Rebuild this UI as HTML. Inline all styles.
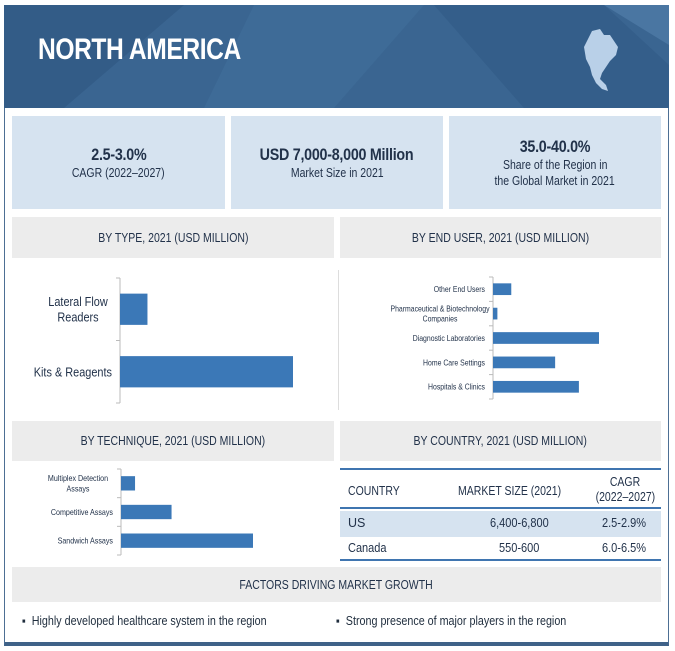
<!DOCTYPE html>
<html><head><meta charset="utf-8"><style>
*{margin:0;padding:0;box-sizing:border-box}
body{width:675px;height:651px;background:#fff;position:relative;overflow:hidden;font-family:"Liberation Sans",sans-serif;color:#1f2d3d}
.abs{position:absolute}
.c{display:inline-block;transform:scaleX(.84);transform-origin:center;white-space:nowrap}
.kpi{background:#d6e3f0;text-align:center;display:flex;flex-direction:column;justify-content:center;align-items:center}
.kpi b{font-size:17px;font-weight:bold;color:#22324a;letter-spacing:-0.3px}
.kpi span{font-size:12.5px;color:#22324a;line-height:16px}
.hd{background:#ececec;font-size:12.5px;display:flex;align-items:center;justify-content:center;color:#22324a;white-space:nowrap}
.tbl{font-size:12.5px;color:#22324a}
.tbl>div{white-space:nowrap}
</style></head><body>
<div class="abs" style="left:4px;top:5px;width:665px;height:641px;border:1.5px solid #4d6f94;border-bottom:4px solid #3f6288"></div>
<div class="abs" style="left:4px;top:5px;width:665px;height:103px;background:#3a6591;overflow:hidden">
<svg width="665" height="103" style="position:absolute;left:0;top:0"><polygon points="0,0 180,0 60,103 0,103" fill="#335c87"/><polygon points="250,0 420,0 330,103 200,103" fill="#3e6b97"/><polygon points="430,0 600,0 665,60 665,103 520,103" fill="#345e8a"/><polygon points="600,0 665,0 665,40" fill="#4a76a2"/></svg>
<div class="abs" style="left:34px;top:28px;font-size:30px;font-weight:bold;color:#fff;letter-spacing:-0.5px;transform:scaleX(.82);transform-origin:left">NORTH AMERICA</div>
<svg class="abs" style="left:576px;top:20px" width="44" height="72"><path d="M12,6 L20,4 L24,10 L30,10 L34,16 L38,22 L36,30 L30,36 L26,42 L22,48 L20,54 L26,60 L28,66 L22,64 L16,58 L12,50 L10,42 L6,34 L4,22 L8,14 Z" fill="#b9d0e8"/></svg>
</div>
<div class="abs kpi" style="left:12px;top:116px;width:213px;height:93px"><b class="c">2.5-3.0%</b><span class="c">CAGR (2022–2027)</span></div>
<div class="abs kpi" style="left:231px;top:116px;width:212px;height:93px"><b class="c">USD 7,000-8,000 Million</b><span class="c">Market Size in 2021</span></div>
<div class="abs kpi" style="left:449px;top:116px;width:212px;height:93px"><b class="c">35.0-40.0%</b><span class="c">Share of the Region in</span><span class="c">the Global Market in 2021</span></div>
<div class="abs hd" style="left:12px;top:217px;width:322px;height:41px"><span class="c">BY TYPE, 2021 (USD MILLION)</span></div>
<div class="abs hd" style="left:340px;top:217px;width:321px;height:41px"><span class="c">BY END USER, 2021 (USD MILLION)</span></div>
<div class="abs hd" style="left:12px;top:421px;width:322px;height:40px"><span class="c">BY TECHNIQUE, 2021 (USD MILLION)</span></div>
<div class="abs hd" style="left:340px;top:421px;width:321px;height:40px"><span class="c">BY COUNTRY, 2021 (USD MILLION)</span></div>
<div class="abs" style="left:338px;top:270px;width:1px;height:140px;background:#ddd"></div>
<svg class="abs" id="charts" style="left:0;top:0" width="675" height="651"></svg>
<div class="abs tbl" style="left:340px;top:468px;width:321px;height:93px;border-top:2px solid #3f75b0;border-bottom:2px solid #3f75b0">
<div style="position:absolute;left:0;top:0;width:321px;height:39px;border-bottom:2px solid #3f75b0"></div>
<div style="position:absolute;left:8px;top:14px;transform:scaleX(.84);transform-origin:left">COUNTRY</div>
<div style="position:absolute;left:118px;top:14px;transform:scaleX(.84);transform-origin:left">MARKET SIZE (2021)</div>
<div style="position:absolute;left:250px;top:5px;width:70px;text-align:center;line-height:15px;transform:scaleX(.84)">CAGR<br>(2022–2027)</div>
<div style="position:absolute;left:0;top:41px;width:321px;height:26px;background:#d6e3f0"></div>
<div style="position:absolute;left:8px;top:46px">US</div><div style="position:absolute;left:150px;top:46px;transform:scaleX(.88);transform-origin:left">6,400-6,800</div><div style="position:absolute;left:262px;top:46px;transform:scaleX(.88);transform-origin:left">2.5-2.9%</div>
<div style="position:absolute;left:8px;top:71px;transform:scaleX(.88);transform-origin:left">Canada</div><div style="position:absolute;left:159px;top:71px;transform:scaleX(.88);transform-origin:left">550-600</div><div style="position:absolute;left:262px;top:71px;transform:scaleX(.88);transform-origin:left">6.0-6.5%</div>
</div>
<div class="abs hd" style="left:12px;top:567px;width:649px;height:35px"><span class="c">FACTORS DRIVING MARKET GROWTH</span></div>
<div class="abs" style="left:22px;top:614px;font-size:12.5px;transform:scaleX(.86);transform-origin:left;white-space:nowrap">▪&nbsp; Highly developed healthcare system in the region</div>
<div class="abs" style="left:336px;top:614px;font-size:12.5px;transform:scaleX(.86);transform-origin:left;white-space:nowrap">▪&nbsp; Strong presence of major players in the region</div>
<script>
const typeCats=["Lateral Flow Readers","Kits & Reagents"];
const typeVals=[1000,6300];
const endCats=["Other End Users","Pharmaceutical & Biotechnology Companies","Diagnostic Laboratories","Home Care Settings","Hospitals & Clinics"];
const endVals=[500,120,2900,1700,2350];
const techCats=["Multiplex Detection Assays","Competitive Assays","Sandwich Assays"];
const techVals=[500,1800,4700];
const NS="http://www.w3.org/2000/svg";
const svg=document.getElementById('charts');
function chart(name,cats,vals,ax,top,bottom,maxV,maxW,barFrac,fs,labelLines){
  const n=cats.length,band=(bottom-top)/n;
  const xs=v=>ax+v/maxV*maxW;
  const axis=document.createElementNS(NS,'line');
  axis.setAttribute('x1',ax);axis.setAttribute('x2',ax);axis.setAttribute('y1',top);axis.setAttribute('y2',bottom);
  axis.setAttribute('stroke','#bbb');
  
  
  svg.appendChild(axis);
  for(let i=0;i<=n;i++){const t=document.createElementNS(NS,'line');t.setAttribute('x1',ax-4);t.setAttribute('x2',ax);t.setAttribute('y1',top+i*band);t.setAttribute('y2',top+i*band);t.setAttribute('stroke','#bbb');svg.appendChild(t);}
  cats.forEach((c,i)=>{
    const bh=band*barFrac,y=top+i*band+(band-bh)/2;
    const r=document.createElementNS(NS,'rect');
    r.setAttribute('x',ax);r.setAttribute('y',y);r.setAttribute('width',xs(vals[i])-ax);r.setAttribute('height',bh);r.setAttribute('fill','#3b78b7');
    
    
    svg.appendChild(r);
    const lines=labelLines[i];
    const mid=y+bh/2,lh=fs*1.2;
    lines.forEach((l,k)=>{
      const centered=typeof l==='object';
      const cx=centered?l.cx:ax-8;
      const tx=document.createElementNS(NS,'text');
      tx.setAttribute('x',0);tx.setAttribute('y',0);
      tx.setAttribute('text-anchor',centered?'middle':'end');
      tx.setAttribute('transform','translate('+cx+','+(mid+fs*0.35+(k-(lines.length-1)/2)*lh)+') scale(0.84,1)');
      tx.setAttribute('font-size',fs);tx.setAttribute('fill','#22324a');
      tx.setAttribute('font-family','"Liberation Sans",sans-serif');
      
      
      tx.textContent=centered?l.t:l;
      svg.appendChild(tx);
    });
  });
}
const tl=[[{t:"Lateral Flow",cx:78},{t:"Readers",cx:78}],["Kits & Reagents"]];
chart('type',typeCats,typeVals,120,278,403,6300,173,0.5,13,tl);
const el=[["Other End Users"],[{t:"Pharmaceutical & Biotechnology",cx:440},{t:"Companies",cx:440}],["Diagnostic Laboratories"],["Home Care Settings"],["Hospitals & Clinics"]];
chart('end-user',endCats,endVals,493,277,399,2900,106,0.48,8.2,el);
const tc=[[{t:"Multiplex Detection",cx:78},{t:"Assays",cx:78}],["Competitive Assays"],["Sandwich Assays"]];
chart('technique',techCats,techVals,121,469,555,4700,132,0.5,8.5,tc);
</script>
</body></html>
